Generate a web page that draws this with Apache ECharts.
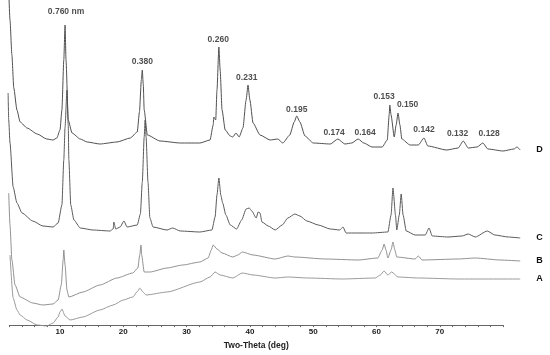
<!DOCTYPE html>
<html>
<head>
<meta charset="utf-8">
<script src="https://cdn.jsdelivr.net/npm/echarts@6/dist/echarts.min.js"></script>
<style>
  html, body { margin: 0; padding: 0; background: #fff; }
  #chart { width: 550px; height: 355px; }
</style>
</head>
<body>
<div id="chart"></div>
<script>
// XRD patterns, [two-theta (deg), intensity (a.u., stacked offsets)]
const traceD = [
  [1.8, 362], [2.1, 312], [2.4, 277], [2.7, 244], [3.2, 222], [3.7, 210], [4.8, 204], [6.4, 198],
  [7.9, 193], [8.9, 192], [9.5, 194], [10.0, 202], [10.3, 222], [10.6, 272], [10.8, 307], [10.95, 272],
  [11.3, 212], [11.9, 199], [13.2, 193], [14.3, 190], [16.3, 188], [19.0, 190], [21.1, 194], [22.2, 200],
  [22.55, 220], [22.85, 252], [23.0, 262], [23.15, 248], [23.3, 222], [23.8, 197], [25.8, 191], [29.0, 189],
  [32.1, 189], [33.7, 192], [34.2, 207], [34.3, 215], [34.6, 212], [34.8, 242], [35.1, 285], [35.3, 262],
  [35.6, 222], [36.1, 202], [36.9, 196], [37.3, 195], [37.8, 199], [38.3, 195], [38.9, 204], [39.4, 232],
  [39.7, 247], [40.0, 232], [40.5, 209], [41.6, 197], [43.2, 192], [44.4, 193], [45.2, 189], [46.3, 197],
  [47.0, 210], [47.4, 216], [47.9, 210], [48.7, 196], [50.0, 189], [52.7, 188], [53.9, 193], [55.0, 188],
  [56.1, 189], [57.1, 193], [58.0, 189], [59.3, 185], [60.9, 185], [61.7, 192], [62.0, 217], [62.1, 227],
  [62.3, 217], [62.8, 195], [63.1, 207], [63.4, 219], [63.7, 207], [64.0, 193], [65.3, 187], [66.6, 187],
  [67.5, 194], [68.1, 186], [71.1, 182], [72.9, 184], [73.7, 191], [74.5, 184], [75.9, 185], [76.8, 189],
  [77.6, 183], [80.0, 181], [81.7, 183], [82.2, 185], [82.7, 182]
];
const traceC = [
  [1.8, 239], [1.9, 212], [2.1, 189], [2.6, 145], [3.2, 129], [4.0, 119], [5.7, 111], [7.3, 106],
  [8.9, 105], [9.7, 109], [10.3, 127], [10.6, 172], [10.8, 205], [11.1, 242], [11.3, 207], [11.4, 172],
  [11.7, 127], [12.2, 112], [13.2, 104], [15.2, 102], [17.9, 101], [18.4, 103], [18.5, 110], [18.8, 103],
  [19.5, 105], [20.1, 111], [20.6, 105], [22.2, 107], [22.7, 118], [23.0, 150], [23.3, 195], [23.45, 212],
  [23.6, 195], [23.9, 150], [24.2, 114], [24.7, 105], [26.9, 102], [27.8, 104], [29.0, 101], [32.1, 100],
  [34.0, 102], [34.5, 115], [34.8, 137], [35.1, 154], [35.4, 137], [35.7, 129], [36.2, 117], [36.9, 107],
  [37.9, 103], [38.7, 112], [39.4, 123], [39.9, 124], [40.3, 121], [41.0, 114], [41.3, 120], [41.6, 119],
  [41.9, 110], [42.9, 106], [44.0, 102], [45.1, 107], [46.0, 114], [47.1, 118], [47.9, 116], [49.0, 111],
  [50.8, 107], [52.7, 103], [54.2, 102], [54.7, 105], [55.2, 99], [59.3, 99], [61.8, 100], [62.3, 117],
  [62.6, 144], [63.0, 117], [63.2, 102], [63.6, 117], [63.9, 138], [64.2, 117], [64.7, 101], [66.1, 97],
  [67.7, 97], [68.3, 104], [68.8, 96], [71.3, 95], [73.5, 96], [74.5, 98], [75.6, 95], [77.5, 101],
  [78.7, 97], [80.8, 95], [82.7, 94]
];
const traceB = [
  [1.9, 139], [2.1, 107], [2.4, 72], [2.9, 47], [3.7, 35], [5.7, 29], [7.3, 27], [8.9, 28],
  [9.7, 32], [10.2, 47], [10.5, 72], [10.6, 82], [10.8, 67], [11.1, 42], [11.4, 35], [13.6, 40],
  [16.3, 47], [19.0, 54], [21.5, 59], [22.3, 64], [22.6, 77], [22.8, 87], [22.9, 77], [23.3, 60],
  [24.2, 60], [26.9, 64], [29.4, 67], [32.1, 70], [33.4, 74], [33.9, 82], [34.2, 87], [34.8, 83],
  [35.6, 79], [37.3, 75], [38.1, 77], [38.8, 80], [40.5, 77], [44.0, 73], [46.0, 76], [47.1, 75],
  [51.9, 73], [57.1, 72], [60.2, 74], [60.9, 82], [61.2, 88], [61.5, 82], [61.8, 74], [62.3, 82],
  [62.6, 90], [62.9, 82], [63.2, 75], [66.1, 73], [66.6, 76], [67.2, 72], [72.9, 73], [75.6, 74],
  [79.5, 72], [82.7, 71]
];
const traceA = [
  [2.1, 77], [2.6, 34], [3.2, 22], [3.7, 17], [4.8, 12], [6.4, 7], [7.9, 6], [8.9, 9],
  [9.7, 15], [10.0, 20], [10.3, 23], [10.8, 16], [11.6, 12], [13.6, 15], [16.3, 22], [18.4, 27],
  [20.0, 32], [21.5, 35], [22.3, 41], [22.6, 44], [23.1, 40], [23.6, 37], [26.9, 40], [32.1, 50],
  [33.7, 55], [34.5, 60], [35.3, 57], [37.3, 54], [38.8, 59], [40.5, 57], [44.0, 54], [46.0, 55],
  [49.2, 54], [54.6, 53], [59.8, 54], [60.6, 57], [61.2, 61], [61.8, 57], [62.4, 60], [63.4, 55],
  [66.6, 54], [72.9, 53], [82.7, 53]
];

const traceNames = ["A", "B", "C", "D"];

// d-spacing annotations over pattern D
const peakLabels = ["0.760 nm", "0.380", "0.260", "0.231", "0.195", "0.174", "0.164", "0.153", "0.150", "0.142", "0.132", "0.128"];
const labelTheta = [10.95, 23.0, 35.0, 39.5, 47.4, 53.3, 58.2, 61.2, 64.9, 67.5, 72.8, 77.8];
const labelHeight = [320, 270, 292, 254, 222, 199, 199, 235, 227, 202, 198, 198];

const xTicks = [10, 20, 30, 40, 50, 60, 70];

const pxPerDeg = 6.33;
const x10 = 60; // pixel of 10 deg
const font = "'Liberation Sans', Arial, sans-serif";

const chart = echarts.init(document.getElementById("chart"), null, { renderer: "canvas" });

function lineSeries(name, data, color, width) {
  return {
    name,
    type: "line",
    data,
    xAxisIndex: 0,
    yAxisIndex: 0,
    showSymbol: false,
    smooth: 0.2,
    smoothMonotone: "x",
    clip: true,
    lineStyle: { color, width },
    endLabel: {
      show: true,
      formatter: "{a}",
      distance: 16,
      color: "#111",
      fontSize: 9,
      fontWeight: "bold",
      fontFamily: font,
    },
  };
}

const option = {
  animation: false,
  grid: [
    { left: x10 - 9 * pxPerDeg, right: 550 - (x10 + 74 * pxPerDeg), top: 0, bottom: 23 },
    { left: x10 - 8 * pxPerDeg, right: 550 - (x10 + 70 * pxPerDeg), top: 0, bottom: 23 },
  ],
  xAxis: [
    { gridIndex: 0, type: "value", min: 1, max: 84, show: false },
    {
      gridIndex: 1,
      type: "value",
      min: 2,
      max: 80,
      interval: 2,
      name: "Two-Theta (deg)",
      nameLocation: "middle",
      nameGap: 10,
      nameTextStyle: { fontFamily: font, fontWeight: "bold", fontSize: 8.5, color: "#222" },
      axisLine: { lineStyle: { color: "#666", width: 1 } },
      axisTick: { length: 2, lineStyle: { color: "#666" } },
      splitLine: { show: false },
      axisLabel: {
        margin: 3,
        fontFamily: font,
        fontWeight: "bold",
        fontSize: 8,
        color: "#222",
        formatter: (v) => (xTicks.includes(v) ? String(v) : ""),
      },
    },
  ],
  yAxis: [
    { gridIndex: 0, type: "value", min: 0, max: 332, show: false },
    { gridIndex: 1, type: "value", min: 0, max: 332, show: false },
  ],
  series: [
    lineSeries(traceNames[0], traceA, "#8f8f8f", 0.9),
    lineSeries(traceNames[1], traceB, "#858585", 0.9),
    lineSeries(traceNames[2], traceC, "#5a5a5a", 1),
    lineSeries(traceNames[3], traceD, "#505050", 1),
    {
      type: "scatter",
      xAxisIndex: 0,
      yAxisIndex: 0,
      symbolSize: 0,
      data: labelTheta.map((t, i) => [t, labelHeight[i]]),
      label: {
        show: true,
        position: "inside",
        formatter: (p) => peakLabels[p.dataIndex],
        fontFamily: font,
        fontWeight: "bold",
        fontSize: 8.5,
        color: "#222",
      },
      silent: true,
    },
  ],
};

chart.setOption(option);
</script>
</body>
</html>
